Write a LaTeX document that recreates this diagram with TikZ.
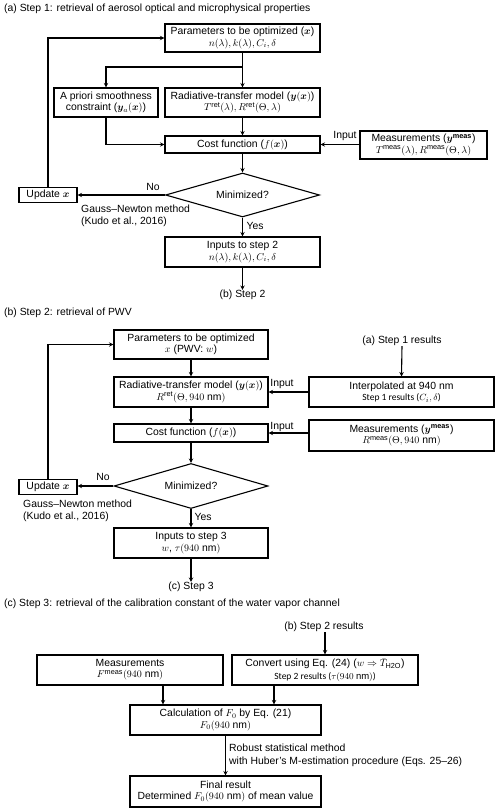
\documentclass[tikz,border=0pt]{standalone}
\usepackage{amsmath}
\usepackage{bm}
\usepackage{fontspec}
\setmainfont{Liberation Sans}
\newfontfamily\carlito{Carlito}
\usetikzlibrary{shapes.geometric,arrows.meta}
\begin{document}
\begin{tikzpicture}[x=1pt,y=-1pt,
  font=\fontsize{10.4}{11.3}\selectfont,
  every node/.style={inner sep=0pt},
  box/.style={draw,line width=1.1pt,align=center,inner sep=0pt},
  dia/.style={draw,line width=1.1pt,diamond,shape aspect=3.5,inner sep=0pt,minimum width=154pt,minimum height=44pt},
  conn/.style={line width=1.1pt,-{Stealth[length=4.5pt,width=4.5pt,inset=1.5pt]}},
  lbl/.style={align=left}]
\useasboundingbox (0,0) rectangle (500,811);
\fill[white] (0,0) rectangle (500,811);

% ---------- (a) ----------
\node[anchor=west] (ta) at (4,9) {(a) Step 1: retrieval of aerosol optical and microphysical properties};
\node[box,minimum width=155pt,minimum height=28pt] (p1) at (242.5,38) {Parameters to be optimized ($\bm{x}$)\\$n(\lambda), k(\lambda), C_i, \delta$};
\node[box,minimum width=104pt,minimum height=29pt] (apri) at (106,102.5) {A priori smoothness\\constraint ($\bm{y}_a(\bm{x})$)};
\node[box,minimum width=155pt,minimum height=29pt] (rt1) at (242.5,102.5) {Radiative-transfer model ($\bm{y}(\bm{x})$)\\$T^{\mathrm{ret}}(\lambda), R^{\mathrm{ret}}(\Theta,\lambda)$};
\node[box,minimum width=155pt,minimum height=17pt] (cost1) at (242.5,144.5) {Cost function ($f(\bm{x})$)};
\node[box,minimum width=127pt,minimum height=28pt] (meas1) at (423.5,145) {Measurements ($\bm{y}^{\mathbf{meas}}$)\\$T^{\mathrm{meas}}(\lambda), R^{\mathrm{meas}}(\Theta,\lambda)$};
\node[dia] (dia1) at (242.5,195) {Minimized?};
\node[box,minimum width=58pt,minimum height=15pt] (upd1) at (48,195) {Update $\bm{x}$};
\node[box,minimum width=155pt,minimum height=30pt] (in2) at (242.5,252) {Inputs to step 2\\$n(\lambda), k(\lambda), C_i, \delta$};
\node (nb) at (242.5,295) {(b) Step 2};
\node (in1lbl) at (345,136) {Input};
\node (no1) at (153,187) {No};
\node (yes1) at (255,226) {Yes};
\node[lbl,anchor=west,font=\fontsize{10.4}{12}\selectfont] (gn1) at (81,216) {Gauss–Newton method\\(Kudo et al., 2016)};
\coordinate (split1) at (242.5,67);

\draw[conn] (upd1.north) -- (upd1.north |- p1.west) -- (p1.west);
\draw[conn] (p1.south) -- (rt1.north);
\draw[conn] (split1) -| (apri.north);
\draw[conn] (apri.south) |- (cost1.west);
\draw[conn] (rt1.south) -- (cost1.north);
\draw[conn] (meas1.west |- cost1.east) -- (cost1.east);
\draw[conn] (cost1.south) -- (dia1.north);
\draw[conn] (dia1.west) -- (upd1.east);
\draw[conn] (dia1.south) -- (in2.north);
\draw[conn] (in2.south) -- (nb.north);

% ---------- (b) ----------
\node[anchor=west] (tb) at (4,313) {(b) Step 2: retrieval of PWV};
\node[box,minimum width=154pt,minimum height=29pt] (p2) at (191,344.5) {Parameters to be optimized\\$x$ (PWV: $w$)};
\node (s1r) at (402,341) {(a) Step 1 results};
\node[box,minimum width=185pt,minimum height=30pt] (interp) at (401.5,392) {Interpolated at 940 nm\\{\carlito\fontsize{9.5}{11.3}\selectfont Step 1 results ($C_i, \delta$)}};
\node[box,minimum width=154pt,minimum height=30pt] (rt2) at (191,392) {Radiative-transfer model ($\bm{y}(\bm{x})$)\\$R^{\mathrm{ret}}(\Theta, 940\ \mathrm{nm})$};
\node[box,minimum width=154pt,minimum height=18pt] (cost2) at (191,433) {Cost function ($f(\bm{x})$)};
\node[box,minimum width=185pt,minimum height=31pt] (meas2) at (401.5,435.5) {Measurements ($\bm{y}^{\mathbf{meas}}$)\\$R^{\mathrm{meas}}(\Theta, 940\ \mathrm{nm})$};
\node[dia,minimum height=45pt] (dia2) at (191,486) {Minimized?};
\node[box,minimum width=58pt,minimum height=15pt] (upd2) at (48,487) {Update $\bm{x}$};
\node[box,minimum width=154pt,minimum height=30pt] (in3) at (191,543) {Inputs to step 3\\$w$, $\tau(940\ \mathrm{nm})$};
\node (nc) at (191,587) {(c) Step 3};
\node (inlbl2) at (282,384) {Input};
\node (inlbl3) at (282,427) {Input};
\node (no2) at (103,477) {No};
\node (yes2) at (203,517) {Yes};
\node[lbl,anchor=west,font=\fontsize{10.4}{12}\selectfont] (gn2) at (23,510.5) {Gauss–Newton method\\(Kudo et al., 2016)};

\draw[conn] (upd2.north) -- (upd2.north |- p2.west) -- (p2.west);
\draw[conn] (p2.south) -- (rt2.north);
\draw[conn] (s1r.south) -- (interp.north);
\draw[conn] (interp.west) -- (rt2.east);
\draw[conn] (rt2.south) -- (cost2.north);
\draw[conn] (meas2.west |- cost2.east) -- (cost2.east);
\draw[conn] (cost2.south) -- (dia2.north);
\draw[conn] (dia2.west) -- (upd2.east |- dia2.west);
\draw[conn] (dia2.south) -- (in3.north);
\draw[conn] (in3.south) -- (nc.north);

% ---------- (c) ----------
\node[anchor=west] (tc) at (4,604) {(c) Step 3: retrieval of the calibration constant of the water vapor channel};
\node (s2r) at (324,627) {(b) Step 2 results};
\node[box,minimum width=186pt,minimum height=30pt] (meas3) at (130,670) {Measurements\\$F^{\mathrm{meas}}(940\ \mathrm{nm})$};
\node[box,minimum width=186pt,minimum height=30pt] (conv) at (325,670) {Convert using Eq. (24) ($w \Rightarrow \bar{T}_{\mathrm{H2O}}$)\\[1pt]{\carlito\fontsize{9.5}{11.3}\selectfont Step 2 results ($\tau(940\ \mathrm{nm})$)}};
\node[box,minimum width=191pt,minimum height=30pt] (calc) at (225.5,720) {Calculation of $F_0$ by Eq. (21)\\$F_0(940\ \mathrm{nm})$};
\node[box,minimum width=191pt,minimum height=31pt] (final) at (225.5,791.5) {Final result\\Determined $F_0(940\ \mathrm{nm})$ of mean value};
\node[lbl,anchor=west,font=\fontsize{10.4}{13}\selectfont] (rob) at (229,755.5) {Robust statistical method\\with Huber’s M-estimation procedure (Eqs. 25–26)};

\draw[conn] (conv.north |- s2r.south) -- (conv.north);
\draw[conn] ([xshift=33pt]meas3.south) -- ([xshift=33pt]meas3.south |- calc.north);
\draw[conn] ([xshift=-51pt]conv.south) -- ([xshift=-51pt]conv.south |- calc.north);
\draw[conn] (calc.south) -- (final.north);
\end{tikzpicture}
\end{document}
